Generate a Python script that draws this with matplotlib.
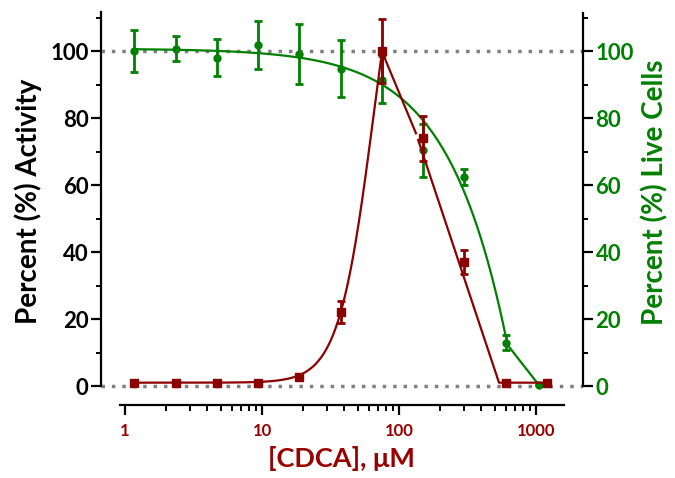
import numpy as np
import matplotlib
matplotlib.use("Agg")
import matplotlib.pyplot as plt
from matplotlib.ticker import FixedLocator, NullFormatter

plt.rcParams['font.family'] = ['Lato', 'DejaVu Sans']
plt.rcParams['font.weight'] = 'bold'

# ---- data ----
conc_activity = [1.17, 2.34, 4.69, 9.38, 18.75, 37.5, 75, 150, 300, 600, 1200]
activity = [1.0, 1.0, 1.0, 1.0, 2.8, 22.0, 100.0, 74.0, 37.0, 1.0, 1.0]
activity_err = [0, 0, 0, 0, 0, 3.3, 9.6, 6.7, 3.6, 0, 0]

conc_live = [1.17, 2.34, 4.69, 9.38, 18.75, 37.5, 75, 150, 300, 600, 1050]
live = [100.2, 100.8, 98.1, 102.0, 99.1, 94.8, 91.5, 70.4, 62.5, 13.0, 0.3]
live_err = [6.3, 3.8, 5.5, 7.2, 9.0, 8.5, 7.0, 8.0, 2.3, 2.2, 0]

# fitted rising curve of activity (Hill): bottom, span, EC50, slope
act_bottom, act_span, act_ec50, act_hill = 1.0, 161.0, 65.5, 3.4
# descending fit segments of activity
fall1_x = [75, 133]
fall1_y = [100.0, 75.5]
fall2_x = [138, 537, 1200]
fall2_y = [73.5, 1.0, 1.0]
# viability fit (linear decline) top & slope, then tail line
live_top, live_slope = 100.8, 0.143
live_tail_x = [600, 1050]
live_tail_y = [13.0, 0.3]

x_ticks = [1, 10, 100, 1000]
x_ticklabels = ['1', '10', '100', '1000']
y_ticks = [0, 20, 40, 60, 80, 100]

RED = '#8B0000'
RED_TXT = '#990000'
GREEN = '#008000'

fig = plt.figure(figsize=(6.75, 4.78), dpi=100)
ax = fig.add_axes([101/675, 1-405/478, 482/675, (405-12.5)/478])
ax.set_xscale('log')
ax.set_xlim(0.668, 2203)
ax.set_ylim(-5.67, 111.6)

# reference dotted lines
ax.axhline(100, color='#808080', lw=2.5, ls=(0, (1, 2.0)), zorder=1)
ax.axhline(0, color='#808080', lw=2.5, ls=(0, (1, 2.0)), zorder=1)

# green fit
xg = np.geomspace(conc_live[0], 600, 300)
ax.plot(xg, live_top - live_slope * xg, color=GREEN, lw=1.6, zorder=2)
ax.plot(live_tail_x, live_tail_y, color=GREEN, lw=1.6, zorder=2)
ax.errorbar(conc_live, live, yerr=live_err, fmt='o', color=GREEN, ms=5,
            elinewidth=2, capsize=3, capthick=2, zorder=3)

# red fit
xr = np.geomspace(conc_activity[0], 75, 300)
yr = act_bottom + act_span / (1 + (act_ec50 / xr) ** act_hill)
ax.plot(xr, yr, color=RED, lw=1.6, zorder=4)
ax.plot(fall1_x, fall1_y, color=RED, lw=1.6, zorder=4)
ax.plot(fall2_x, fall2_y, color=RED, lw=1.6, zorder=4)
ax.errorbar(conc_activity, activity, yerr=activity_err, fmt='s', color=RED, ms=5.5,
            elinewidth=2, capsize=3, capthick=2, zorder=5)

# spines
for s in ['top', 'right']:
    ax.spines[s].set_visible(False)
ax.spines['left'].set_bounds(0, 111.6)
ax.spines['bottom'].set_bounds(0.92, 1600)
ax.spines['left'].set_linewidth(1.6)
ax.spines['bottom'].set_linewidth(1.6)

ax.set_xticks(x_ticks)
ax.set_xticklabels(x_ticklabels)
ax.xaxis.set_minor_locator(FixedLocator(
    [m * 10 ** d for d in range(0, 4) for m in range(2, 10) if m * 10 ** d < 1600]))
ax.xaxis.set_minor_formatter(NullFormatter())
ax.tick_params(axis='x', which='major', length=7, width=1.6, pad=6,
               labelsize=12, labelcolor=RED_TXT)
ax.tick_params(axis='x', which='minor', length=4, width=1.4)

ax.set_yticks(y_ticks)
ax.yaxis.set_minor_locator(FixedLocator([10, 30, 50, 70, 90, 110]))
ax.tick_params(axis='y', which='major', length=7, width=1.6, pad=2, labelsize=16)
ax.tick_params(axis='y', which='minor', length=3.5, width=1.4)

ax.set_ylabel('Percent (%) Activity', fontsize=20, fontweight='bold')
ax.yaxis.set_label_coords(-0.122, 0.518)
ax.set_xlabel('[CDCA], μM', fontsize=19.5, fontweight='bold', color=RED_TXT)
ax.xaxis.set_label_coords(0.498, -0.105)

# right axis
ax2 = ax.twinx()
ax2.set_ylim(ax.get_ylim())
for s in ['top', 'left', 'bottom']:
    ax2.spines[s].set_visible(False)
ax2.spines['right'].set_bounds(0, 111.6)
ax2.spines['right'].set_linewidth(1.6)
ax2.set_yticks(y_ticks)
ax2.yaxis.set_minor_locator(FixedLocator([10, 30, 50, 70, 90, 110]))
ax2.tick_params(axis='y', which='major', length=7, width=1.6, pad=2,
                labelsize=16, labelcolor=GREEN)
ax2.tick_params(axis='y', which='minor', length=3.5, width=1.4)
ax2.set_ylabel('Percent (%) Live Cells', fontsize=20, fontweight='bold',
               color=GREEN, rotation=90)
ax2.yaxis.set_label_coords(1.122, 0.541)

fig.savefig('out.png', dpi=100)
